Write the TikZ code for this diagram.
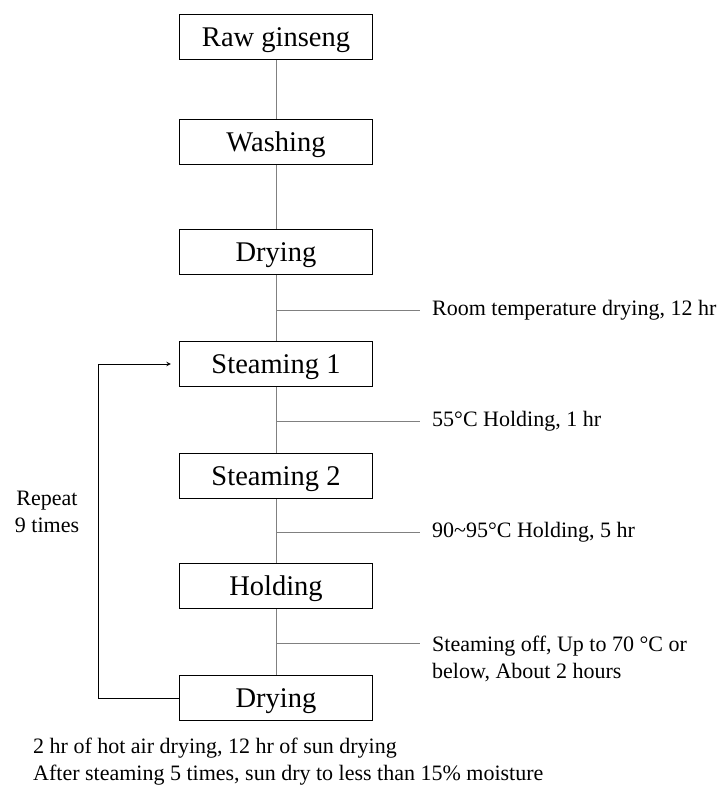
\documentclass[tikz,border=0pt]{standalone}
\usepackage{fontspec}
\setmainfont{Liberation Serif}
\begin{document}
\begin{tikzpicture}[x=1pt, y=-1pt,
    stepbox/.style={draw, line width=1.3pt, minimum width=193pt, minimum height=45pt, inner sep=0pt, text height=19pt, text depth=0pt, font=\fontsize{28.5}{32}\selectfont},
    note/.style={inner sep=0pt, align=left, font=\fontsize{22}{27}\selectfont},
    link/.style={gray, line width=1pt}]
    \useasboundingbox (0,0) rectangle (720,789);
    % main chain
    \node[stepbox] (raw) at (276,37) {Raw ginseng};
    \node[stepbox] (wash) at (276,142) {Washing};
    \node[stepbox] (dry1) at (276,252) {Drying};
    \node[stepbox] (steam1) at (276,364) {Steaming 1};
    \node[stepbox] (steam2) at (276,476) {Steaming 2};
    \node[stepbox] (hold) at (276,586) {Holding};
    \node[stepbox] (dry2) at (276,698) {Drying};
    \foreach \a/\b in {raw/wash, wash/dry1, dry1/steam1, steam1/steam2, steam2/hold, hold/dry2}{
        \draw[link] (\a) -- (\b);
    }
    % side notes
    \coordinate (b1) at (276,310);
    \coordinate (e1) at (420,310);
    \coordinate (b2) at (276,421);
    \coordinate (e2) at (420,421);
    \coordinate (b3) at (276,532);
    \coordinate (e3) at (420,532);
    \coordinate (b4) at (276,643);
    \coordinate (e4) at (420,643);
    \node[note, anchor=west] (n1) at (432,310) {Room temperature drying, 12 hr};
    \node[note, anchor=west] (n2) at (432,421) {55°C Holding, 1 hr};
    \node[note, anchor=west] (n3) at (432,532) {90\textasciitilde95°C Holding, 5 hr};
    \node[note, anchor=north west] (n4) at (432,636) {Steaming off, Up to 70 °C or\\below, About 2 hours};
    \foreach \i in {1,2,3,4}{
        \draw[link] (b\i) -- (e\i);
    }
    % repeat loop
    \node[note, align=center] (rep) at (47,512) {Repeat\\9 times};
    \draw[line width=1pt, -stealth] (dry2.west) -- ++(-80,0) |- ([xshift=-8pt]steam1.west);
    \node[note, anchor=north west] (foot) at (33,738) {2 hr of hot air drying, 12 hr of sun drying\\After steaming 5 times, sun dry to less than 15\% moisture};
\end{tikzpicture}
\end{document}
